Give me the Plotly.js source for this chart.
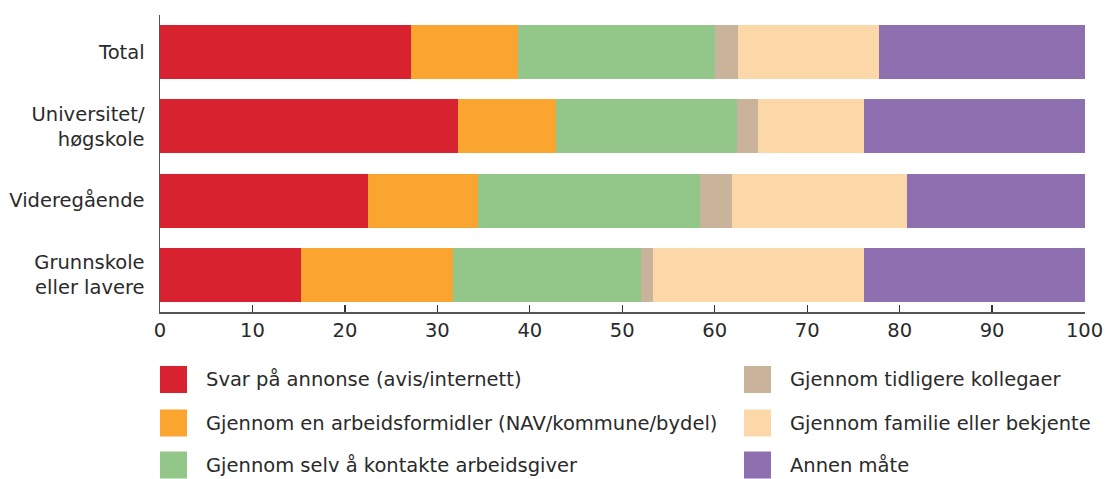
<!DOCTYPE html>
<html>
<head>
<meta charset="utf-8">
<script src="https://cdn.plot.ly/plotly-3.0.1.min.js"></script>
<style>
  html, body { margin: 0; padding: 0; background: #fff; }
  #chart { width: 1106px; height: 479px; }
</style>
</head>
<body>
<div id="chart"></div>
<script>
// ---- data ----
const categories = ["Total", "Universitet/<br>høgskole", "Videregående", "Grunnskole<br>eller lavere"];
const seriesNames = [
  "Svar på annonse (avis/internett)",
  "Gjennom en arbeidsformidler (NAV/kommune/bydel)",
  "Gjennom selv å kontakte arbeidsgiver",
  "Gjennom tidligere kollegaer",
  "Gjennom familie eller bekjente",
  "Annen måte"
];
const annonse      = [27.1, 32.2, 22.5, 15.2];
const formidler    = [11.6, 10.6, 11.9, 16.5];
const selvKontakt  = [21.3, 19.6, 24.0, 20.3];
const kollegaer    = [2.5, 2.3, 3.5, 1.3];
const familie      = [15.3, 11.4, 18.9, 22.8];
const annen        = [22.2, 23.9, 19.2, 23.9];
const seriesValues = [annonse, formidler, selvKontakt, kollegaer, familie, annen];
const colors = ["#D9222F", "#F9A52F", "#93C78A", "#C9B49B", "#FCD7A7", "#8E6FAF"];
const xTicks = [0, 10, 20, 30, 40, 50, 60, 70, 80, 90, 100];

// ---- layout constants ----
const W = 1106, H = 479;
const M = {l: 160, r: 21, t: 15, b: 167};
const plotW = W - M.l - M.r, plotH = H - M.t - M.b;
const FONT = "DejaVu Sans, Verdana, sans-serif";
const FS = 19.5;
const TXT = "#2a2a2a";

const traces = seriesNames.map((name, i) => ({
  type: "bar",
  orientation: "h",
  name: name,
  y: categories,
  x: seriesValues[i],
  marker: {color: colors[i], line: {width: 0}},
  hoverinfo: "name+x",
  showlegend: false
}));

// custom legend (two columns, three rows)
const pxX = p => (p - M.l) / plotW;
const pxY = p => (H - M.b - p) / plotH;
const legendCols = [160, 744];
const legendRows = [379.5, 423, 465];
const sw = 27;
const shapes = [], annotations = [];
seriesNames.forEach((name, i) => {
  const col = Math.floor(i / 3), row = i % 3;
  const x0 = legendCols[col], yc = legendRows[row];
  shapes.push({
    type: "rect", xref: "paper", yref: "paper",
    x0: pxX(x0), x1: pxX(x0 + sw),
    y0: pxY(yc + sw / 2), y1: pxY(yc - sw / 2),
    fillcolor: colors[i], line: {width: 0}
  });
  annotations.push({
    xref: "paper", yref: "paper",
    x: pxX(x0 + 44), y: pxY(yc),
    xanchor: "left", yanchor: "middle",
    text: name, showarrow: false,
    font: {family: FONT, size: FS, color: TXT}
  });
});

const layout = {
  width: W, height: H,
  margin: M,
  paper_bgcolor: "#fff", plot_bgcolor: "#fff",
  barmode: "stack",
  bargap: 0.273,
  showlegend: false,
  font: {family: FONT, size: FS, color: TXT},
  xaxis: {
    range: [0, 100.05],
    tickvals: xTicks,
    ticktext: xTicks.map(String),
    showgrid: false, zeroline: false,
    showline: true, linecolor: "#555", linewidth: 1.5,
    ticks: "inside", ticklen: 7, tickcolor: "#333", tickwidth: 1.2,
    tickfont: {family: FONT, size: FS, color: TXT}
  },
  yaxis: {
    type: "category",
    autorange: "reversed",
    showgrid: false, zeroline: false,
    showline: true, linecolor: "#555", linewidth: 1.5,
    ticks: "", ticklabelstandoff: 10,
    tickfont: {family: FONT, size: FS, color: TXT}
  },
  shapes: shapes,
  annotations: annotations
};

Plotly.newPlot("chart", traces, layout, {displayModeBar: false, staticPlot: true});
</script>
</body>
</html>
